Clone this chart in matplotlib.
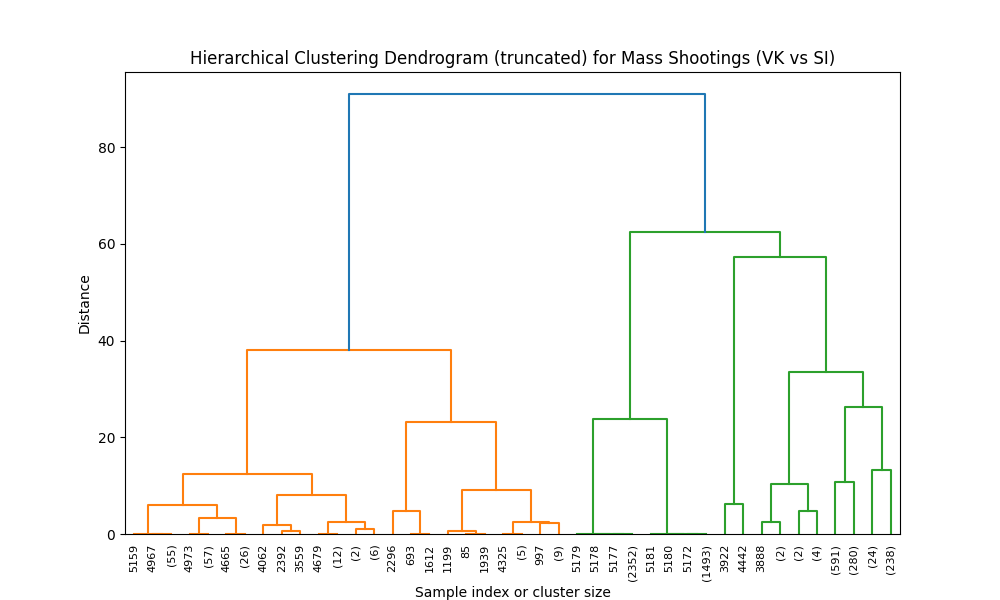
import matplotlib
matplotlib.use("Agg")
import matplotlib.pyplot as plt

leaf_labels = ["5159", "4967", "(55)", "4973", "(57)", "4665", "(26)", "4062", "2392", "3559",
               "4679", "(12)", "(2)", "(6)", "2296", "693", "1612", "1199", "85", "1939",
               "4325", "(5)", "997", "(9)", "5179", "5178", "5177", "(2352)", "5181", "5180",
               "5172", "(1493)", "3922", "4442", "3888", "(2)", "(2)", "(4)", "(591)", "(280)",
               "(24)", "(238)"]

# merges: (left child, right child) ; ids < 42 are leaves, ids >= 42 are earlier merges
merge_left = [1, 0, 3, 5, 44, 43, 8, 7, 10, 12, 50, 49, 47, 15, 14, 18, 17, 20, 22, 59, 58, 56, 54,
              26, 25, 24, 30, 29, 28, 67, 32, 34, 36, 73, 38, 40, 76, 75, 72, 71, 64]
merge_right = [2, 42, 4, 6, 45, 46, 9, 48, 11, 13, 51, 52, 53, 16, 55, 19, 57, 21, 23, 60, 61, 62, 63,
               27, 65, 66, 31, 68, 69, 70, 33, 35, 37, 74, 39, 41, 77, 78, 79, 80, 81]
merge_height = [0.0, 0.0, 0.0, 0.0, 3.4, 6.1, 0.7, 1.8, 0.0, 1.1, 2.4, 8.0, 12.4, 0.0, 4.8, 0.0, 0.7,
                0.0, 2.2, 2.55, 9.2, 23.2, 38.0,
                0.0, 0.0, 0.0, 0.0, 0.0, 0.0, 23.8, 6.3, 2.55, 4.8, 10.4, 10.8, 13.3, 26.3, 33.5,
                57.2, 62.5, 91.0]

n = len(leaf_labels)
pos = {i: 10 * i + 5.0 for i in range(n)}
hgt = {i: 0.0 for i in range(n)}
for k, (a, b, h) in enumerate(zip(merge_left, merge_right, merge_height)):
    pos[n + k] = (pos[a] + pos[b]) / 2
    hgt[n + k] = h

# colours: top link blue, subtrees orange / green
root = n + len(merge_height) - 1
colour = {}
def paint(node, c):
    if node < n:
        return
    colour[node] = c
    k = node - n
    paint(merge_left[k], c)
    paint(merge_right[k], c)
paint(merge_left[root - n], "#ff7f0e")
paint(merge_right[root - n], "#2ca02c")
colour[root] = "#1f77b4"

fig, ax = plt.subplots(figsize=(10, 6), dpi=100)
for k, (a, b, h) in enumerate(zip(merge_left, merge_right, merge_height)):
    node = n + k
    ax.plot([pos[a], pos[a], pos[b], pos[b]], [hgt[a], h, h, hgt[b]],
            color=colour[node], linewidth=1.5)

ax.set_xlim(0, 10 * n)
ax.set_ylim(0, max(merge_height) * 1.05)
ax.set_xticks([10 * i + 5 for i in range(n)])
ax.set_xticklabels(leaf_labels, rotation=90, fontsize=8)
for line in ax.get_xticklines():
    line.set_visible(False)
ax.set_yticks([0, 20, 40, 60, 80])
ax.set_title("Hierarchical Clustering Dendrogram (truncated) for Mass Shootings (VK vs SI)")
ax.set_xlabel("Sample index or cluster size")
ax.set_ylabel("Distance")
fig.savefig("out.png", dpi=100)
